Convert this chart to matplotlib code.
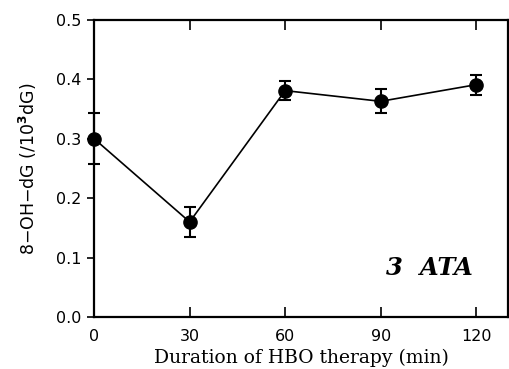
import matplotlib.pyplot as plt
from matplotlib.ticker import MultipleLocator

# 8-OH-dG level over the course of HBO therapy at 3 ATA
minutes = [0, 30, 60, 90, 120]
ohdg = [0.300, 0.160, 0.381, 0.363, 0.391]
ohdg_err = [0.043, 0.025, 0.016, 0.020, 0.017]

fig = plt.figure(figsize=(5.09, 3.69), dpi=100)
ax = fig.add_axes([0.185, 0.141, 0.813, 0.805])

ax.errorbar(minutes, ohdg, yerr=ohdg_err, color='black', lw=1.2,
            marker='o', ms=9.5, capsize=4.5, capthick=1.5, elinewidth=1.5,
            clip_on=False, zorder=3)

ax.set_xlim(0, 130)
ax.set_ylim(0, 0.5)
ax.xaxis.set_major_locator(MultipleLocator(30))
ax.yaxis.set_major_locator(MultipleLocator(0.1))
ax.yaxis.set_major_formatter(plt.FormatStrFormatter('%.1f'))

for side in ax.spines.values():
    side.set_linewidth(1.6)

ax.tick_params(axis='x', direction='in', top=True, length=7, width=1.2,
               labelsize=11.5, pad=9)
ax.tick_params(axis='y', direction='out', length=5, width=1.2,
               labelsize=11.5, pad=4)

ax.set_xlabel('Duration of HBO therapy (min)', family='DejaVu Serif',
              fontsize=13.5, labelpad=3)
ax.set_ylabel(r'8$-$OH$-$dG (/10$^{\mathbf{3}}$dG)', fontsize=12.5, labelpad=12)

ax.text(0.915, 0.165, '3  ATA', transform=ax.transAxes, ha='right',
        va='center', family='DejaVu Serif', style='italic',
        weight='bold', fontsize=17.5)

fig.savefig('out.png', dpi=100)
